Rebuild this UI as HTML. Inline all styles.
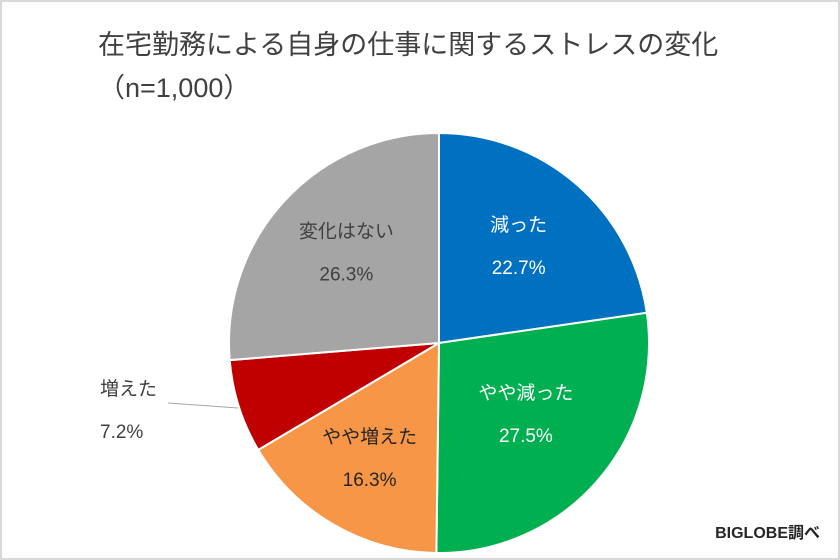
<!DOCTYPE html>
<html><head><meta charset="utf-8"><style>
body{margin:0;background:#fff}
svg{display:block;font-family:"Liberation Sans","Noto Sans CJK JP",sans-serif}
</style></head><body>
<svg id="c" width="840" height="560" viewBox="0 0 840 560">
<rect x="1" y="1" width="838" height="558" fill="#fff" stroke="#d9d9d9" stroke-width="2"/>
<text x="98" y="54" font-size="27" fill="#404040">在宅勤務による自身の仕事に関するストレスの変化</text>
<text x="98" y="97" font-size="27" fill="#404040">（n=1,000）</text>
<g id="slices"></g>
<g id="labels"></g>
<line x1="168" y1="403" x2="238" y2="408" stroke="#a6a6a6" stroke-width="1"/>
<text x="820" y="538" font-size="16" font-weight="bold" fill="#262626" text-anchor="end">BIGLOBE調べ</text>
</svg>
<script>
const categories = ["減った","やや減った","やや増えた","増えた","変化はない"];
const values = [22.7,27.5,16.3,7.2,26.3];
const valueLabels = ["22.7%","27.5%","16.3%","7.2%","26.3%"];
const colors = ["#0070C0","#00B050","#F79646","#C00000","#A5A5A5"];
const labelColors = ["#fff","#fff","#262626","#404040","#404040"];
const ns="http://www.w3.org/2000/svg";
const cx=439, cy=343, r=210;
const radF=[0.58,0.55,0.66,0.58,0.6];
const total=values.reduce((a,b)=>a+b,0);
function pt(a,rr){return [cx+rr*Math.sin(a), cy-rr*Math.cos(a)];}
let a0=0;
const sg=document.getElementById('slices'), lg=document.getElementById('labels');
values.forEach((v,i)=>{
  const a1=a0+v/total*2*Math.PI;
  const p0=pt(a0,r), p1=pt(a1,r);
  const path=document.createElementNS(ns,'path');
  path.setAttribute('d',`M${cx},${cy}L${p0[0]},${p0[1]}A${r},${r} 0 ${a1-a0>Math.PI?1:0} 1 ${p1[0]},${p1[1]}Z`);
  path.setAttribute('fill',colors[i]);
  path.setAttribute('stroke','#fff');
  path.setAttribute('stroke-width','2');
  
  
  sg.appendChild(path);
  const mid=(a0+a1)/2;
  let lx,ly,anchor='middle';
  if(i===3){lx=100;ly=395;anchor='start';}
  else {const p=pt(mid,r*radF[i]);lx=p[0];ly=p[1]-20;}
  [categories[i],valueLabels[i]].forEach((t,j)=>{
    const tx=document.createElementNS(ns,'text');
    tx.setAttribute('x',lx);tx.setAttribute('y',ly+j*43);
    tx.setAttribute('font-size','19');tx.setAttribute('fill',labelColors[i]);
    tx.setAttribute('text-anchor',anchor);
    
    
    tx.textContent=t;lg.appendChild(tx);
  });
  a0=a1;
});
</script>
</body></html>
